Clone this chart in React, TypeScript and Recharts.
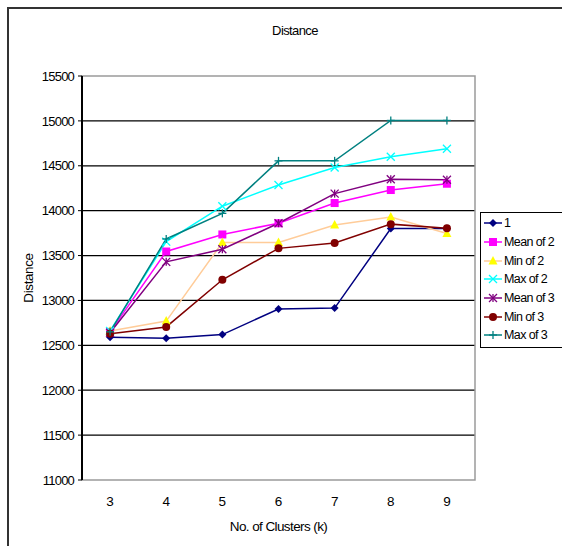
import React from "react"
import { LineChart, Line, XAxis, YAxis, CartesianGrid, ReferenceArea } from "recharts"

const clusters = [3, 4, 5, 6, 7, 8, 9]
const yTicks = [11000, 11500, 12000, 12500, 13000, 13500, 14000, 14500, 15000, 15500]
const gapTicks = [3.5, 4.5, 5.5, 6.5, 7.5, 8.5]

const one = [12590, 12580, 12620, 12905, 12915, 13800, 13800]
const meanOf2 = [12650, 13545, 13735, 13860, 14085, 14230, 14300]
const minOf2 = [12660, 12770, 13645, 13645, 13840, 13930, 13745]
const maxOf2 = [12660, 13655, 14050, 14285, 14480, 14600, 14690]
const meanOf3 = [12640, 13430, 13570, 13860, 14190, 14350, 14345]
const minOf3 = [12630, 12705, 13230, 13580, 13640, 13850, 13805]
const maxOf3 = [12650, 13685, 13970, 14555, 14555, 15005, 15005]

const series = [
  { key: "1", values: one, line: "#000080", fill: "#000080", shape: "diamond" },
  { key: "Mean of 2", values: meanOf2, line: "#ff00ff", fill: "#ff00ff", shape: "square" },
  { key: "Min of 2", values: minOf2, line: "#ffcc99", fill: "#ffff00", shape: "triangle" },
  { key: "Max of 2", values: maxOf2, line: "#00ffff", fill: "#00ffff", shape: "x" },
  { key: "Mean of 3", values: meanOf3, line: "#800080", fill: "#800080", shape: "star" },
  { key: "Min of 3", values: minOf3, line: "#800000", fill: "#800000", shape: "circle" },
  { key: "Max of 3", values: maxOf3, line: "#008080", fill: "#008080", shape: "plus" },
]

const data = clusters.map((k, i) => {
  const row: any = { k }
  series.forEach((s) => (row[s.key] = s.values[i]))
  return row
})

const FONT = "'Liberation Sans', Arial, sans-serif"

function Marker({ cx, cy, shape, color }: any) {
  if (cx == null || cy == null) return null
  switch (shape) {
    case "diamond":
      return <polygon points={`${cx},${cy - 4} ${cx + 4},${cy} ${cx},${cy + 4} ${cx - 4},${cy}`} fill={color} />
    case "square":
      return <rect x={cx - 4} y={cy - 4} width={8} height={8} fill={color} />
    case "triangle":
      return <polygon points={`${cx},${cy - 5} ${cx + 4.5},${cy + 3.5} ${cx - 4.5},${cy + 3.5}`} fill={color} />
    case "x":
      return (
        <g stroke={color} strokeWidth={1.3}>
          <line x1={cx - 4} y1={cy - 4} x2={cx + 4} y2={cy + 4} />
          <line x1={cx - 4} y1={cy + 4} x2={cx + 4} y2={cy - 4} />
        </g>
      )
    case "star":
      return (
        <g stroke={color} strokeWidth={1.3}>
          <line x1={cx - 4} y1={cy - 4} x2={cx + 4} y2={cy + 4} />
          <line x1={cx - 4} y1={cy + 4} x2={cx + 4} y2={cy - 4} />
          <line x1={cx} y1={cy - 4} x2={cx} y2={cy + 4} />
        </g>
      )
    case "circle":
      return <circle cx={cx} cy={cy} r={4} fill={color} />
    case "plus":
      return (
        <g stroke={color} strokeWidth={1.3}>
          <line x1={cx - 4} y1={cy} x2={cx + 4} y2={cy} />
          <line x1={cx} y1={cy - 4} x2={cx} y2={cy + 4} />
        </g>
      )
  }
  return null
}

function LegendBox() {
  return (
    <div
      style={{
        position: "absolute",
        left: 480,
        top: 212,
        border: "1px solid #000",
        background: "#fff",
        padding: "1px 0 2px 3px",
        width: 110,
        fontFamily: FONT,
        fontSize: 12.5,
        letterSpacing: -0.6,
      }}
    >
      {series.map((s) => (
        <div key={s.key} style={{ display: "flex", alignItems: "center", height: 18.7 }}>
          <svg width={18} height={12} style={{ marginRight: 2 }}>
            <line x1={0} y1={6} x2={18} y2={6} stroke={s.line} strokeWidth={1.5} />
            <Marker cx={9} cy={6} shape={s.shape} color={s.fill} />
          </svg>
          <span>{s.key}</span>
        </div>
      ))}
    </div>
  )
}

function GapTick({ x, y }: any) {
  return <line x1={x} y1={y} x2={x} y2={y - 5} stroke="#000" strokeWidth={1.3} />
}

export default function App() {
  return (
    <div style={{ position: "absolute", left: 0, top: 0, width: 562, height: 546, overflow: "hidden", background: "#fff" }}>
      <div
        style={{
          position: "absolute",
          left: 7,
          top: 7,
          width: 700,
          height: 700,
          borderLeft: "2px solid #333",
          borderTop: "2px solid #333",
        }}
      />
      <div
        style={{
          position: "absolute",
          left: 0,
          width: 590,
          top: 23,
          textAlign: "center",
          fontFamily: FONT,
          fontSize: 13,
          letterSpacing: -0.6,
        }}
      >
        Distance
      </div>
      <div style={{ position: "absolute", left: 0, top: 0 }}>
        <LineChart width={562} height={546} data={data} margin={{ top: 76, right: 87, bottom: 0, left: 0 }}>
          <ReferenceArea
            xAxisId="main"
            x1={2.5}
            x2={9.5}
            y1={11000}
            y2={15500}
            fill="none"
            stroke="#9a9a9a"
            strokeWidth={1.5}
            ifOverflow="visible"
          />
          <CartesianGrid
            xAxisId="main"
            vertical={false}
            stroke="#000"
            strokeWidth={1.2}
            horizontalValues={yTicks.slice(1, -1)}
          />
          <XAxis
            xAxisId="gap"
            type="number"
            dataKey="k"
            domain={[2.5, 9.5]}
            ticks={gapTicks}
            height={0}
            tickLine={false}
            tickSize={0}
            tickMargin={0}
            tick={<GapTick />}
            axisLine={{ stroke: "#000", strokeWidth: 2 }}
          />
          <XAxis
            xAxisId="main"
            type="number"
            dataKey="k"
            domain={[2.5, 9.5]}
            ticks={clusters}
            height={66}
            axisLine={false}
            tickLine={false}
            tickSize={6}
            tickMargin={10}
            tick={{ fill: "#000", fontSize: 13.5, fontFamily: FONT }}
            label={{
              value: "No. of Clusters (k)",
              position: "insideBottom",
              offset: 15,
              fill: "#000",
              fontSize: 13.5,
              fontFamily: FONT,
              letterSpacing: -0.6,
            }}
          />
          <YAxis
            type="number"
            domain={[11000, 15500]}
            ticks={yTicks}
            width={82}
            interval={0}
            axisLine={{ stroke: "#000", strokeWidth: 2 }}
            tickLine={{ stroke: "#000" }}
            tickSize={4}
            tickMargin={4}
            tick={{ fill: "#000", fontSize: 13, fontFamily: FONT, letterSpacing: -0.8 }}
            label={{
              value: "Distance",
              angle: -90,
              position: "insideLeft",
              offset: 28,
              fill: "#000",
              fontSize: 13.5,
              fontFamily: FONT,
              letterSpacing: -0.4,
              style: { textAnchor: "middle" },
            }}
          />
          {series.map((s) => (
            <Line
              key={s.key}
              xAxisId="main"
              type="linear"
              dataKey={s.key}
              stroke={s.line}
              strokeWidth={1.5}
              dot={(p: any) => <Marker key={`${s.key}-${p.index}`} cx={p.cx} cy={p.cy} shape={s.shape} color={s.fill} />}
              activeDot={false}
              isAnimationActive={false}
            />
          ))}
        </LineChart>
      </div>
      <LegendBox />
    </div>
  )
}
